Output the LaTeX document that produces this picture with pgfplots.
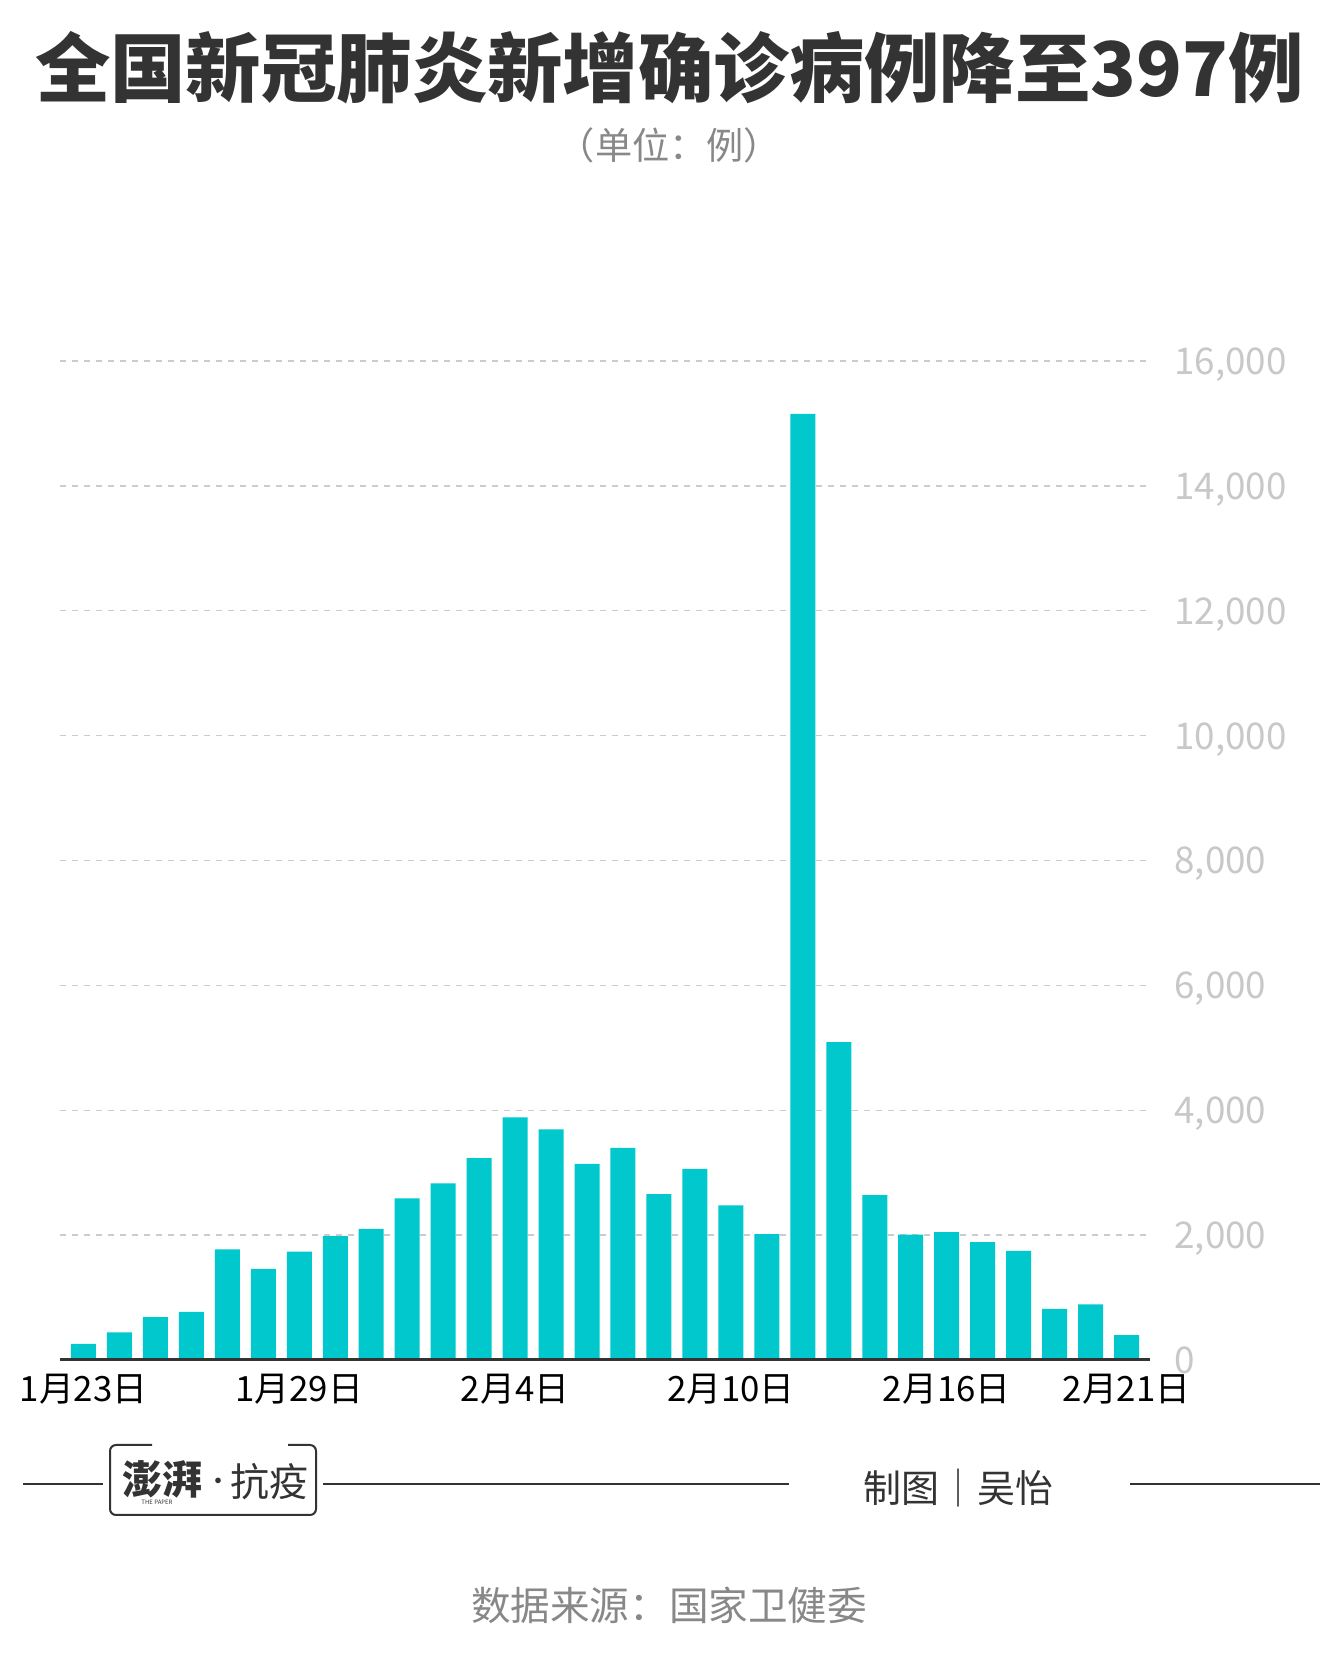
\documentclass[border=0pt]{standalone}
\usepackage{pgfplots}
\pgfplotsset{compat=1.18}
\usepackage{fontspec}
\setmainfont{Noto Sans CJK SC}
\definecolor{barc}{RGB}{0,200,204}
\definecolor{dark}{HTML}{333333}
\definecolor{gridc}{HTML}{CCCCCC}
\definecolor{lab}{HTML}{C8C8C8}
\definecolor{sub}{HTML}{888888}
\begin{document}
\begin{tikzpicture}[x=1pt,y=1pt]
\path (0,0) rectangle (669.5,829.5);
\begin{axis}[
  at={(30pt,149.5pt)}, anchor=south west,
  scale only axis, width=545pt, height=499.5pt,
  xmin=0.347, xmax=30.653, ymin=0, ymax=16000,
  axis line style={draw=none},
  ymajorgrids,
  grid style={gridc, dash pattern=on 3pt off 3pt, line width=0.7pt},
  major tick length=0pt,
  ytick={0,2000,...,16000},
  yticklabel pos=right,
  yticklabel style={anchor=base west, inner sep=0pt, xshift=12pt, yshift=-6.75pt, text=lab, font=\fontsize{18.4}{20}\selectfont},
  xtick={1,7,13,19,25,30},
  xticklabels={1月23日,1月29日,2月4日,2月10日,2月16日,2月21日},
  xticklabel style={anchor=base, inner sep=0pt, yshift=-21pt, text=black, font=\fontsize{17.4}{20}\selectfont},
  /pgf/number format/1000 sep={,},
  /pgf/number format/assume math mode=true,
  scaled y ticks=false,
  ybar, bar width=12.5pt, bar shift=0pt,
  clip=false,
]
\addplot[fill=barc, draw=none] coordinates {
(1,259) (2,444) (3,688) (4,769) (5,1771) (6,1459) (7,1737) (8,1982) (9,2102) (10,2590)
(11,2829) (12,3235) (13,3887) (14,3694) (15,3143) (16,3399) (17,2656) (18,3062) (19,2478) (20,2015)
(21,15152) (22,5090) (23,2641) (24,2009) (25,2048) (26,1886) (27,1749) (28,820) (29,889) (30,397)
};
\draw[dark, line width=1.5pt] (axis cs:0.347,0) -- (axis cs:30.653,0);
\end{axis}
\node[text=dark, font=\fontsize{37.7}{40}\selectfont\bfseries] at (334.75,795.5) {全国新冠肺炎新增确诊病例降至397例};
\node[text=sub, font=\fontsize{18.6}{20}\selectfont] at (334.75,757) {（单位：例）};
\draw[dark, line width=1pt] (11.5,87.5) -- (51.5,87.5);
\draw[dark, line width=1pt] (161.5,87.5) -- (394.5,87.5);
\draw[dark, line width=1pt] (565,87.5) -- (660,87.5);
\draw[dark, line width=1pt, rounded corners=3pt] (76,107) -- (55,107) -- (55,72) -- (158,72) -- (158,107) -- (144,107);
\node[text=dark, font=\fontsize{20}{20}\selectfont\bfseries, inner sep=0pt] at (81,90) {澎湃};
\node[text=dark, font=\fontsize{10}{10}\selectfont\bfseries, inner sep=0pt] at (109,88) {·};
\node[text=dark, font=\fontsize{19.5}{20}\selectfont, inner sep=0pt] at (134.5,88.5) {抗疫};
\node[text=dark, font=\fontsize{3}{3}\selectfont, inner sep=0pt] at (78.5,78.5) {THE PAPER};
\node[text=dark, font=\fontsize{19}{20}\selectfont, inner sep=0pt] at (479,85.5) {制图｜吴怡};
\node[text=sub, font=\fontsize{19.8}{20}\selectfont, inner sep=0pt] at (334.5,27) {数据来源：国家卫健委};
\end{tikzpicture}
\end{document}
